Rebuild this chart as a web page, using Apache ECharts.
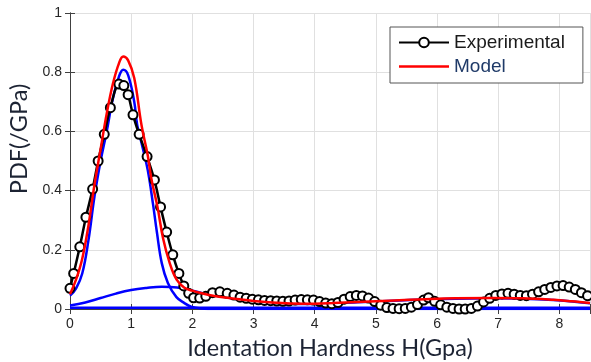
<!DOCTYPE html>
<html><head><meta charset="utf-8">
<script src="https://cdn.jsdelivr.net/npm/echarts@6/dist/echarts.min.js"></script>
<style>html,body{margin:0;padding:0;background:#fff}#c{width:591px;height:362px}</style>
</head><body><div id="c"></div>
<script>
// Experimental PDF
const expX = [0.00,0.06,0.16,0.26,0.37,0.46,0.56,0.66,0.80,0.88,0.95,1.03,1.13,1.26,1.38,1.48,1.58,1.68,1.78,1.86,1.94,2.02,2.12,2.22,2.33,2.45,2.57,2.68,2.78,2.88,2.98,3.08,3.18,3.28,3.38,3.48,3.58,3.68,3.78,3.88,3.98,4.08,4.18,4.28,4.38,4.48,4.58,4.68,4.78,4.88,4.98,5.08,5.18,5.28,5.38,5.48,5.58,5.68,5.78,5.86,5.96,6.06,6.16,6.26,6.36,6.46,6.56,6.66,6.76,6.86,6.96,7.06,7.16,7.26,7.36,7.46,7.56,7.66,7.76,7.86,7.96,8.06,8.16,8.26,8.36,8.46];
const expY = [0.07,0.12,0.21,0.31,0.405,0.50,0.59,0.68,0.76,0.755,0.724,0.656,0.59,0.515,0.436,0.345,0.26,0.183,0.12,0.078,0.053,0.038,0.037,0.043,0.055,0.058,0.053,0.047,0.040,0.036,0.033,0.031,0.029,0.028,0.027,0.026,0.027,0.030,0.032,0.031,0.030,0.025,0.020,0.018,0.022,0.033,0.042,0.046,0.044,0.037,0.025,0.013,0.005,0.002,0.001,0.002,0.006,0.015,0.030,0.038,0.026,0.014,0.006,0.002,0.000,0.000,0.002,0.010,0.024,0.036,0.046,0.051,0.053,0.050,0.046,0.045,0.050,0.058,0.066,0.073,0.078,0.079,0.074,0.066,0.055,0.045];
// Model (sum)
const modelX = [0.0,0.1,0.2,0.3,0.4,0.5,0.6,0.7,0.8,0.87,0.95,1.05,1.17,1.27,1.33,1.43,1.52,1.63,1.74,1.87,2.0,2.14,2.36,2.6,2.8,3.0,3.3,3.6,4.0,4.3,4.7,5.3,5.8,6.3,6.9,7.4,7.9,8.2,8.5];
const modelY = [0.05,0.10,0.17,0.28,0.42,0.54,0.66,0.76,0.83,0.853,0.84,0.78,0.62,0.52,0.44,0.345,0.24,0.155,0.10,0.072,0.062,0.054,0.044,0.037,0.032,0.027,0.022,0.019,0.018,0.020,0.024,0.029,0.033,0.036,0.037,0.036,0.031,0.026,0.020];
// Component 1 (narrow)
const comp1X = [0.0,0.1,0.2,0.3,0.4,0.5,0.6,0.7,0.8,0.87,0.95,1.05,1.1,1.17,1.27,1.36,1.42,1.5,1.6,1.74,1.87,1.98,2.14,2.4,8.5];
const comp1Y = [0.045,0.07,0.12,0.23,0.38,0.50,0.60,0.71,0.785,0.808,0.79,0.70,0.62,0.56,0.47,0.35,0.26,0.155,0.088,0.04,0.02,0.008,0.002,0.0,0.0];
// Component 2 (broad)
const comp2X = [0.0,0.25,0.5,0.75,1.0,1.25,1.5,1.75,2.0,2.2,2.5,3.0,3.6,4.0,4.7,5.3,5.8,6.3,6.9,7.4,7.9,8.5];
const comp2Y = [0.012,0.022,0.037,0.052,0.064,0.071,0.075,0.073,0.062,0.052,0.041,0.026,0.018,0.017,0.023,0.028,0.032,0.035,0.036,0.035,0.030,0.019];
// Component 3 (flat)
const comp3X = [0.0,2.0,4.0,6.0,8.5];
const comp3Y = [0.004,0.004,0.004,0.004,0.004];
const xTicks = [0,1,2,3,4,5,6,7,8];
const yTicks = [0,0.2,0.4,0.6,0.8,1];

const zip = (a,b) => a.map((v,i)=>[v,b[i]]);
const chart = echarts.init(document.getElementById('c'));
const axisCol = '#404040';
const labFont = {color:'#262626', fontSize:14, fontFamily:'Liberation Sans, Arial, sans-serif'};
chart.setOption({
  animation:false,
  backgroundColor:'#fff',
  grid:{left:70, right:1, top:13, bottom:53, containLabel:false, outerBoundsMode:'none'},
  legend:{
    orient:'vertical', left:390, top:27,
    padding:[6,18,7,8], itemGap:5, itemWidth:50, itemHeight:12,
    backgroundColor:'#fff', borderColor:'#555', borderWidth:1,
    textStyle:{fontSize:19, fontFamily:'Liberation Sans, Arial, sans-serif', color:'#1a1a1a'},
    data:[{name:'Experimental'},{name:'Model', icon:'path://M0,0L50,0L50,2.6L0,2.6Z', textStyle:{color:'#1f3a68'}}]
  },
  xAxis:[{
    type:'value', min:0, max:8.5, interval:1,
    name:'Identation Hardness H(Gpa)', nameLocation:'middle', nameGap:27,
    nameTextStyle:{fontSize:23.5, color:'#1c2333', fontFamily:'Lato, Open Sans, sans-serif'},
    axisLine:{show:true, lineStyle:{color:axisCol, width:1}},
    axisTick:{show:true, inside:true, length:5, lineStyle:{color:axisCol}},
    axisLabel:{...labFont, margin:8, formatter:v=>xTicks.includes(v)?String(v):''},
    splitLine:{show:true, lineStyle:{color:'#e0e0e0', width:1}}
  },{
    type:'value', min:0, max:8.5, interval:1, position:'top',
    axisLine:{show:true, lineStyle:{color:axisCol, width:1}},
    axisTick:{show:true, inside:true, length:5, lineStyle:{color:axisCol}},
    axisLabel:{show:false}, splitLine:{show:false}
  }],
  yAxis:[{
    type:'value', min:0, max:1, interval:0.2,
    name:'PDF(/GPa)', nameLocation:'middle', nameGap:38,
    nameTextStyle:{fontSize:23.5, color:'#1c2333', fontFamily:'Lato, Open Sans, sans-serif', padding:[0,0,0,44]},
    axisLine:{show:true, lineStyle:{color:axisCol, width:1}},
    axisTick:{show:true, inside:true, length:5, lineStyle:{color:axisCol}},
    axisLabel:{...labFont, margin:8, formatter:v=>yTicks.includes(+v.toFixed(1))?String(+v.toFixed(1)):''},
    splitLine:{show:true, lineStyle:{color:'#e0e0e0', width:1}}
  },{
    type:'value', min:0, max:1, interval:0.2, position:'right',
    axisLine:{show:true, lineStyle:{color:axisCol, width:1}},
    axisTick:{show:true, inside:true, length:5, lineStyle:{color:axisCol}},
    axisLabel:{show:false}, splitLine:{show:false}
  }],
  series:[
    {name:'c1', type:'line', data:zip(comp1X,comp1Y), symbol:'none', smooth:0.4, lineStyle:{color:'#0000ff', width:2.5}, itemStyle:{color:'#0000ff'}, z:2},
    {name:'c2', type:'line', data:zip(comp2X,comp2Y), symbol:'none', smooth:0.4, lineStyle:{color:'#0000ff', width:2.5}, itemStyle:{color:'#0000ff'}, z:2},
    {name:'c3', type:'line', data:zip(comp3X,comp3Y), symbol:'none', lineStyle:{color:'#0000ff', width:2.5}, itemStyle:{color:'#0000ff'}, z:2},
    {name:'Experimental', type:'line', data:zip(expX,expY), symbol:'emptyCircle', symbolSize:9, smooth:0.3,
      lineStyle:{color:'#000', width:2.5}, itemStyle:{color:'#000', borderWidth:2.2}, z:3},
    {name:'Model', type:'line', data:zip(modelX,modelY), symbol:'none', smooth:0.4, lineStyle:{color:'#ff0000', width:2.5}, itemStyle:{color:'#ff0000'}, z:4}
  ]
});
</script></body></html>
